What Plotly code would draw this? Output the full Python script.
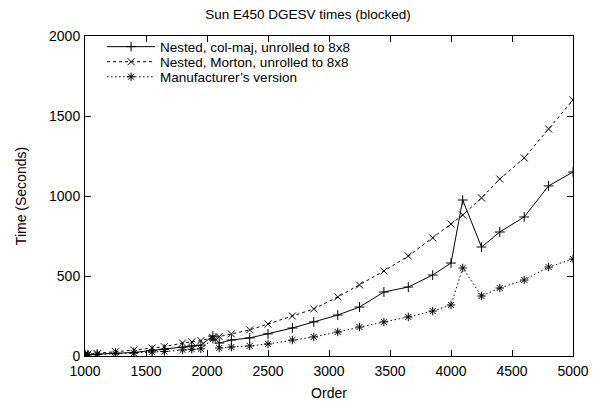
import plotly.graph_objects as go

# matrix order for each run
order = [1000, 1024, 1100, 1250, 1400, 1550, 1650, 1800, 1875, 1950,
         2048, 2100, 2200, 2350, 2500, 2700, 2875, 3072, 3250, 3450,
         3650, 3850, 4000, 4096, 4250, 4400, 4600, 4800, 5000]

# times in seconds
colmaj = [8, 9, 12, 18, 22, 35, 42, 55, 62, 68,
          125, 81, 100, 113, 138, 175, 213, 256, 306, 400,
          431, 506, 581, 975, 681, 775, 869, 1063, 1150]
morton = [10, 12, 15, 27, 37, 50, 58, 81, 88, 96,
          115, 121, 138, 163, 200, 250, 294, 369, 444, 531,
          625, 738, 825, 881, 988, 1106, 1238, 1419, 1600]
manuf = [6, 7, 9, 14, 18, 25, 28, 38, 42, 45,
         105, 50, 56, 63, 75, 100, 119, 150, 181, 213,
         244, 281, 319, 550, 375, 425, 475, 556, 606]

FONT = "Liberation Sans"

fig = go.Figure()
series = [
    ("Nested, col-maj, unrolled to 8x8", colmaj, "solid", "cross-thin-open", "legend"),
    ("Nested, Morton, unrolled to 8x8", morton, "3px,3px", "x-thin-open", "legend2"),
    ("Manufacturer\u2019s version", manuf, "1.5px,2.5px", "asterisk-open", "legend3"),
]
for name, vals, dash, sym, leg in series:
    fig.add_trace(
        go.Scatter(
            x=order,
            y=vals,
            mode="lines+markers",
            name=name,
            legend=leg,
            line=dict(color="black", width=1, dash=dash),
            marker=dict(symbol=sym, size=7, color="black",
                        line=dict(color="black", width=1)),
        )
    )

axis_style = dict(
    showgrid=False,
    zeroline=False,
    showline=True,
    linecolor="black",
    linewidth=1,
    mirror="ticks",
    ticks="inside",
    ticklen=6,
    tickcolor="black",
    tickfont=dict(family=FONT, size=14, color="black"),
)

fig.update_xaxes(range=[1000, 5000], dtick=500, tick0=1000, ticklabelstandoff=2,
                 title=dict(text="Order", font=dict(family=FONT, size=14, color="black"),
                            standoff=10),
                 **axis_style)
fig.update_yaxes(range=[0, 2000], dtick=500, tick0=0, ticklabelstandoff=1,
                 title=dict(text="Time (Seconds)", font=dict(family=FONT, size=14, color="black"),
                            standoff=19),
                 **axis_style)

# one legend per entry so the rows can sit as tightly as gnuplot's key
leg_common = dict(x=0.035, xanchor="left", yanchor="middle",
                  bgcolor="rgba(0,0,0,0)", itemwidth=48,
                  font=dict(family=FONT, size=13.5, color="black"))

# the page body adds an 8px offset, so margins are shifted to compensate
fig.update_layout(
    width=600,
    height=406,
    margin=dict(l=75, r=35, t=28, b=58),
    paper_bgcolor="white",
    plot_bgcolor="white",
    font=dict(family=FONT, size=14, color="black"),
    title=dict(text="Sun E450 DGESV times (blocked)", x=0.5, xanchor="center",
               y=0.995, yanchor="top", font=dict(family=FONT, size=13.5, color="black")),
    legend=dict(y=0.966, **leg_common),
    legend2=dict(y=0.919, **leg_common),
    legend3=dict(y=0.872, **leg_common),
    showlegend=True,
)

fig.write_html("out.html")
